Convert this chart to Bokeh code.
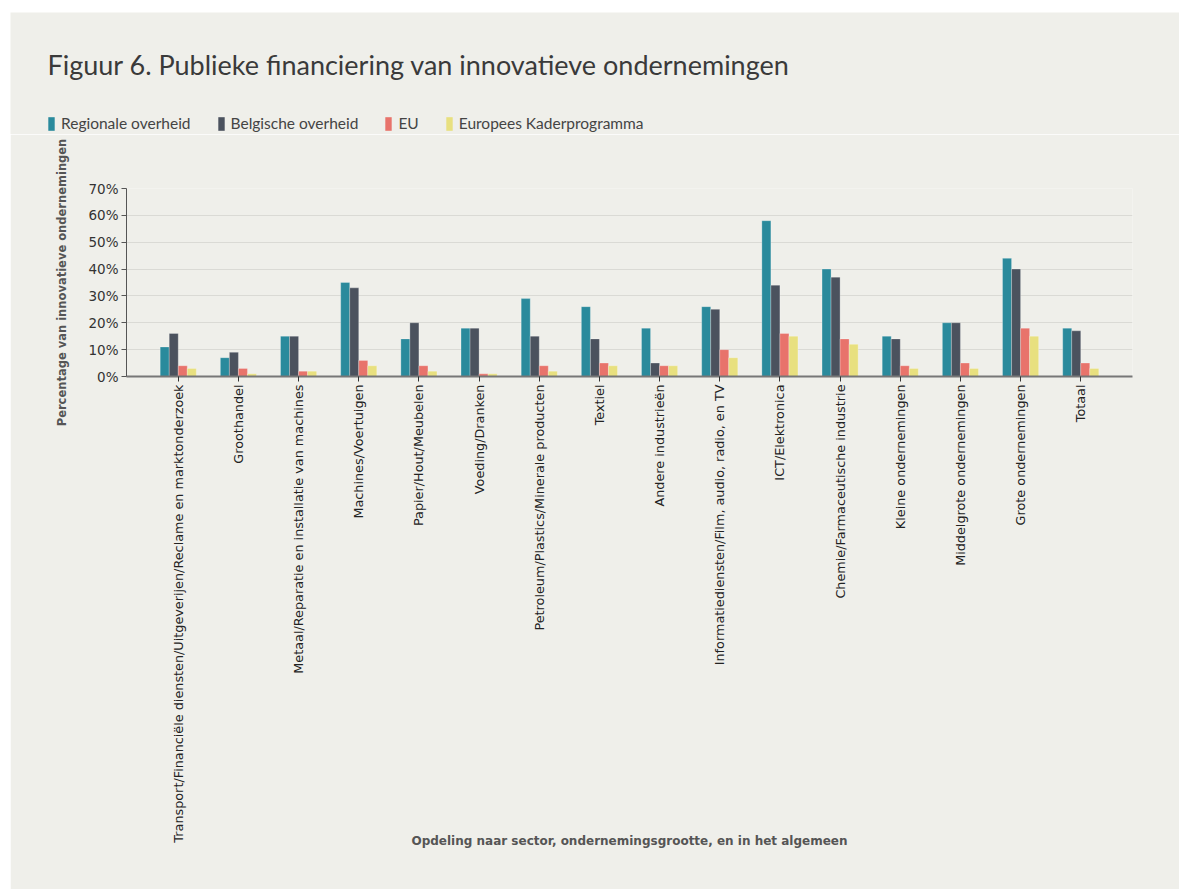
from math import pi
from bokeh.plotting import figure
from bokeh.layouts import column
from bokeh.models import (ColumnDataSource, FactorRange, Range1d, SingleIntervalTicker,
                          PrintfTickFormatter, Legend, LegendItem, Label)
from bokeh.transform import dodge
from bokeh.embed import file_html
from bokeh.resources import INLINE

categories = [
    "Transport/Financiële diensten/Uitgeverijen/Reclame en marktonderzoek",
    "Groothandel",
    "Metaal/Reparatie en installatie van machines",
    "Machines/Voertuigen",
    "Papier/Hout/Meubelen",
    "Voeding/Dranken",
    "Petroleum/Plastics/Minerale producten",
    "Textiel",
    "Andere industrieën",
    "Informatiediensten/Film, audio, radio, en TV",
    "ICT/Elektronica",
    "Chemie/Farmaceutische industrie",
    "Kleine ondernemingen",
    "Middelgrote ondernemingen",
    "Grote ondernemingen",
    "Totaal",
]
regionale = [11, 7, 15, 35, 14, 18, 29, 26, 18, 26, 58, 40, 15, 20, 44, 18]
belgische = [16, 9, 15, 33, 20, 18, 15, 14, 5, 25, 34, 37, 14, 20, 40, 17]
eu = [4, 3, 2, 6, 4, 1, 4, 5, 4, 10, 16, 14, 4, 5, 18, 5]
kader = [3, 1, 2, 4, 2, 1, 2, 4, 4, 7, 15, 12, 3, 3, 15, 3]
series_names = ["Regionale overheid", "Belgische overheid", "EU", "Europees Kaderprogramma"]
y_ticks = [0, 10, 20, 30, 40, 50, 60, 70]

colors = ["#2a8a9c", "#4b525e", "#e8736b", "#e8e07f"]
BG = "#efefea"
cols = ["r", "b", "e", "k"]

src = ColumnDataSource(dict(cat=categories, r=regionale, b=belgische, e=eu, k=kader))

# ---------- header: title + legend ----------
HEAD_H = 122
head = figure(width=1169, height=HEAD_H, x_range=Range1d(1000, 1001), y_range=Range1d(1000, 1001),
              output_backend="svg", toolbar_location=None,
              min_border_left=0, min_border_right=0, min_border_top=0, min_border_bottom=0)
head.frame_align = False
head.margin = (12, 0, 0, 10)
head.background_fill_color = BG
head.border_fill_color = BG
head.outline_line_color = None
head.axis.visible = False
head.grid.visible = False
head.add_layout(Label(x=37, y=70, x_units="screen", y_units="screen",
                      text="Figuur 6. Publieke financiering van innovatieve ondernemingen",
                      text_font="Lato", text_font_size="27px", text_color="#3a3a3a",
                      text_baseline="alphabetic", text_align="left"))
items = []
for name, c, col in zip(series_names, colors, cols):
    r = head.vbar(x=col, top=col, width=0.1, source=src, fill_color=c, line_color=None,
                  visible=False)
    items.append(LegendItem(label=name, renderers=[r]))
lg = Legend(items=items, orientation="horizontal", location=(37, 2))
lg.padding = 0
lg.margin = 0
lg.spacing = 26
lg.glyph_width = 8
lg.glyph_height = 17
lg.label_height = 17
lg.label_standoff = 6
lg.label_text_font = "Lato"
lg.label_text_font_size = "15.5px"
lg.label_text_color = "#444444"
lg.background_fill_alpha = 0
lg.border_line_alpha = 0
lg.inactive_fill_alpha = 0
lg.click_policy = "none"
head.add_layout(lg)

# ---------- main chart ----------
p = figure(x_range=FactorRange(factors=categories, range_padding=0.36,
                               range_padding_units="absolute"),
           y_range=Range1d(y_ticks[0], y_ticks[-1]),
           width=1169, height=889 - 12 - HEAD_H, output_backend="svg", toolbar_location=None,
           min_border_left=116, min_border_right=47, min_border_top=188 - 12 - HEAD_H,
           min_border_bottom=513)
p.frame_align = False
p.margin = (0, 0, 0, 10)
p.background_fill_color = BG
p.border_fill_color = BG
p.outline_line_color = None

bw = 0.15
for i, col in enumerate(cols):
    off = (i - 1.5) * bw
    p.vbar(x=dodge("cat", off, range=p.x_range), top=col, width=bw, source=src,
           fill_color=colors[i], line_color="white", line_alpha=0.25, line_width=1)

p.xgrid.grid_line_color = None
p.ygrid.grid_line_color = "#dadad5"
p.ygrid.grid_line_width = 1.2
p.yaxis.ticker = SingleIntervalTicker(interval=10)
p.yaxis.formatter = PrintfTickFormatter(format="%d%%")
p.yaxis.minor_tick_line_color = None
p.yaxis.axis_line_color = "#555555"
p.yaxis.major_tick_line_color = "#555555"
p.yaxis.major_tick_out = 5
p.yaxis.major_tick_in = 0
p.yaxis.major_label_standoff = 3
p.yaxis.major_label_text_font = "DejaVu Sans"
p.yaxis.major_label_text_font_size = "13.5px"
p.yaxis.major_label_text_color = "#333333"
p.yaxis.axis_label = "Percentage van innovatieve ondernemingen"
p.yaxis.axis_label_text_font = "DejaVu Sans"
p.yaxis.axis_label_text_font_style = "bold"
p.yaxis.axis_label_text_font_size = "11.5px"
p.yaxis.axis_label_text_color = "#555555"
p.yaxis.axis_label_standoff = 16

p.xaxis.axis_line_color = "#777777"
p.xaxis.axis_line_width = 2
p.xaxis.major_tick_line_color = "#333333"
p.xaxis.major_tick_out = 5
p.xaxis.major_tick_in = 0
p.xaxis.major_label_standoff = 3
p.xaxis.major_label_orientation = pi / 2
p.xaxis.major_label_text_font = "DejaVu Sans"
p.xaxis.major_label_text_font_size = "12.8px"
p.xaxis.major_label_text_color = "#222222"
p.xaxis.axis_label = "Opdeling naar sector, ondernemingsgrootte, en in het algemeen"
p.xaxis.axis_label_text_font = "DejaVu Sans"
p.xaxis.axis_label_text_font_style = "bold"
p.xaxis.axis_label_text_font_size = "12px"
p.xaxis.axis_label_text_color = "#555555"
p.xaxis.axis_label_standoff = -12

layout = column(head, p, spacing=0)
open("out.html", "w").write(file_html(layout, INLINE))
